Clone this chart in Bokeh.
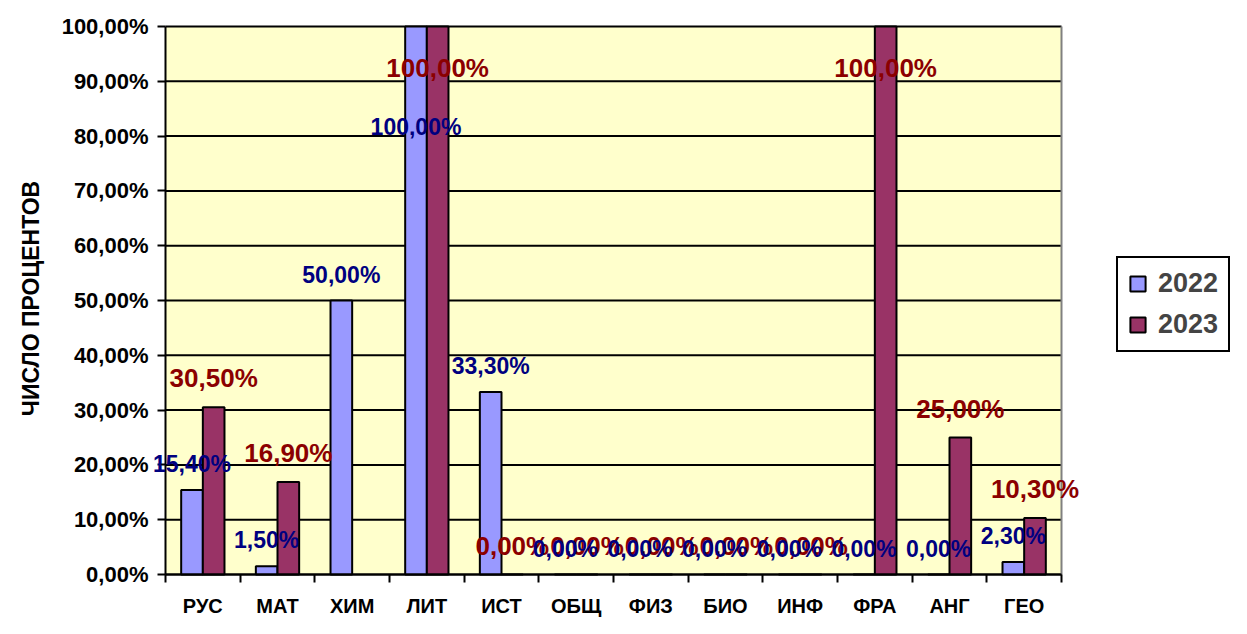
import math
from bokeh.plotting import figure
from bokeh.models import (ColumnDataSource, Range1d, FixedTicker, LabelSet, Legend, LegendItem, Label)
from bokeh.core.properties import value
from bokeh.transform import dodge
from bokeh.embed import file_html
from bokeh.resources import INLINE

# ---- data ----
categories = ["РУС", "МАТ", "ХИМ", "ЛИТ", "ИСТ", "ОБЩ", "ФИЗ", "БИО", "ИНФ", "ФРА", "АНГ", "ГЕО"]
values_2022 = [15.4, 1.5, 50.0, 100.0, 33.3, 0.0, 0.0, 0.0, 0.0, 0.0, 0.0, 2.3]
values_2023 = [30.5, 16.9, float("nan"), 100.0, 0.0, 0.0, 0.0, 0.0, 0.0, 100.0, 25.0, 10.3]
series_names = ["2022", "2023"]
y_ticks = [0, 10, 20, 30, 40, 50, 60, 70, 80, 90, 100]
y_title = "ЧИСЛО ПРОЦЕНТОВ"

FONT = "Liberation Sans"
C22 = "#9999FF"
C23 = "#993366"
T22 = "#000080"
T23 = "#8B0000"

# ---- layout (pixels) ----
W, H = 1231, 618
PL, PR, PT, PB = 165, 1061, 26, 574   # plot area edges in screen px
n = len(categories)
ppx = (PR - PL) / n                    # px per category
ppy = (PB - PT) / 100.0                # px per percent
x0 = -0.5 - PL / ppx
x1 = x0 + W / ppx
y1 = 100 + PT / ppy
y0 = -(H - PB) / ppy

def fmt(v):
    return f"{v:.2f}%".replace(".", ",")

idx = list(range(n))
src22 = ColumnDataSource(dict(x=idx, y=values_2022))
src23 = ColumnDataSource(dict(x=[i for i, v in zip(idx, values_2023) if not math.isnan(v)],
                              y=[v for v in values_2023 if not math.isnan(v)]))

p = figure(width=W, height=H, output_backend="svg", toolbar_location=None,
           x_range=Range1d(x0, x1), y_range=Range1d(y0, y1),
           min_border=0)
p.background_fill_color = "white"
p.border_fill_color = "white"
p.outline_line_color = None
p.xgrid.grid_line_color = None
p.ygrid.grid_line_color = None

# plot area
p.quad(left=[-0.5], right=[n - 0.5], bottom=[0], top=[100], fill_color="#FFFFCC", line_color=None)
p.segment(x0=[-0.5] * len(y_ticks), x1=[n - 0.5] * len(y_ticks), y0=y_ticks, y1=y_ticks,
          line_color="black", line_width=2)
p.segment(x0=[n - 0.5], x1=[n - 0.5], y0=[0], y1=[100], line_color="#808080", line_width=2)

BW = 0.29
OFF = 0.145
r22 = p.vbar(x=dodge("x", -OFF), top="y", width=BW, source=src22,
             fill_color=C22, line_color="black", line_width=2)
r23 = p.vbar(x=dodge("x", OFF), top="y", width=BW, source=src23,
             fill_color=C23, line_color="black", line_width=2)

# labels
def label_source(xs, ys, up, down):
    xx, yy, tt, oo = [], [], [], []
    for x, v in zip(xs, ys):
        if math.isnan(v):
            continue
        xx.append(x); yy.append(v); tt.append(fmt(v))
        oo.append(-down if v >= 100 else up)
    return ColumnDataSource(dict(x=xx, y=yy, t=tt, o=oo))

ls23 = label_source(idx, values_2023, 29, 41)
ls22 = label_source(idx, values_2022, 26, 100)
p.add_layout(LabelSet(x=dodge("x", OFF), y="y", text="t", y_offset="o", source=ls23,
                      text_align="center", text_baseline="middle", text_font=value(FONT),
                      text_font_style="bold", text_font_size="26px", text_color=T23))
p.add_layout(LabelSet(x=dodge("x", -OFF), y="y", text="t", y_offset="o", source=ls22,
                      text_align="center", text_baseline="middle", text_font=value(FONT),
                      text_font_style="bold", text_font_size="23px", text_color=T22))

# axes
ya = p.yaxis[0]
ya.fixed_location = -0.5
ya.bounds = (0, 100)
ya.ticker = FixedTicker(ticks=y_ticks)
ya.major_label_overrides = {t: fmt(t) for t in y_ticks}
ya.major_tick_out = 8
ya.major_tick_in = 0
ya.minor_tick_line_color = None
ya.axis_line_width = 2
ya.major_tick_line_width = 2
ya.major_label_text_font = FONT
ya.major_label_text_font_style = "bold"
ya.major_label_text_font_size = "22px"
ya.major_label_text_color = "black"
ya.major_label_standoff = 9

xa = p.xaxis[0]
xa.fixed_location = 0
xa.bounds = (-0.5, n - 0.5)
xa.ticker = FixedTicker(ticks=idx, minor_ticks=[i - 0.5 for i in range(n + 1)])
xa.major_label_overrides = {i: c for i, c in zip(idx, categories)}
xa.major_tick_line_color = None
xa.major_tick_out = 0
xa.major_tick_in = 0
xa.minor_tick_out = 8
xa.minor_tick_in = 0
xa.minor_tick_line_width = 2
xa.axis_line_width = 2
xa.major_label_text_font = FONT
xa.major_label_text_font_style = "bold"
xa.major_label_text_font_size = "20px"
xa.major_label_text_color = "black"
xa.major_label_standoff = 12

p.add_layout(Label(x=30, y=H - 298, x_units="screen", y_units="screen", text=y_title,
                   angle=math.pi / 2, text_align="center", text_baseline="middle",
                   text_font=FONT, text_font_style="bold", text_font_size="23px",
                   text_color="black"))

legend = Legend(items=[LegendItem(label=series_names[0], renderers=[r22]),
                       LegendItem(label=series_names[1], renderers=[r23])],
                location=(1116, H - 352))
legend.label_text_font = FONT
legend.label_text_font_style = "bold"
legend.label_text_font_size = "27px"
legend.label_height = 30
legend.glyph_width = 19
legend.glyph_height = 19
legend.label_standoff = 11
legend.spacing = 10
legend.padding = 10
legend.margin = 0
legend.border_line_color = "black"
legend.border_line_width = 2
legend.border_line_alpha = 1
legend.background_fill_color = "white"
legend.background_fill_alpha = 1
p.add_layout(legend, "center")

open("out.html", "w").write(file_html(p, INLINE))
